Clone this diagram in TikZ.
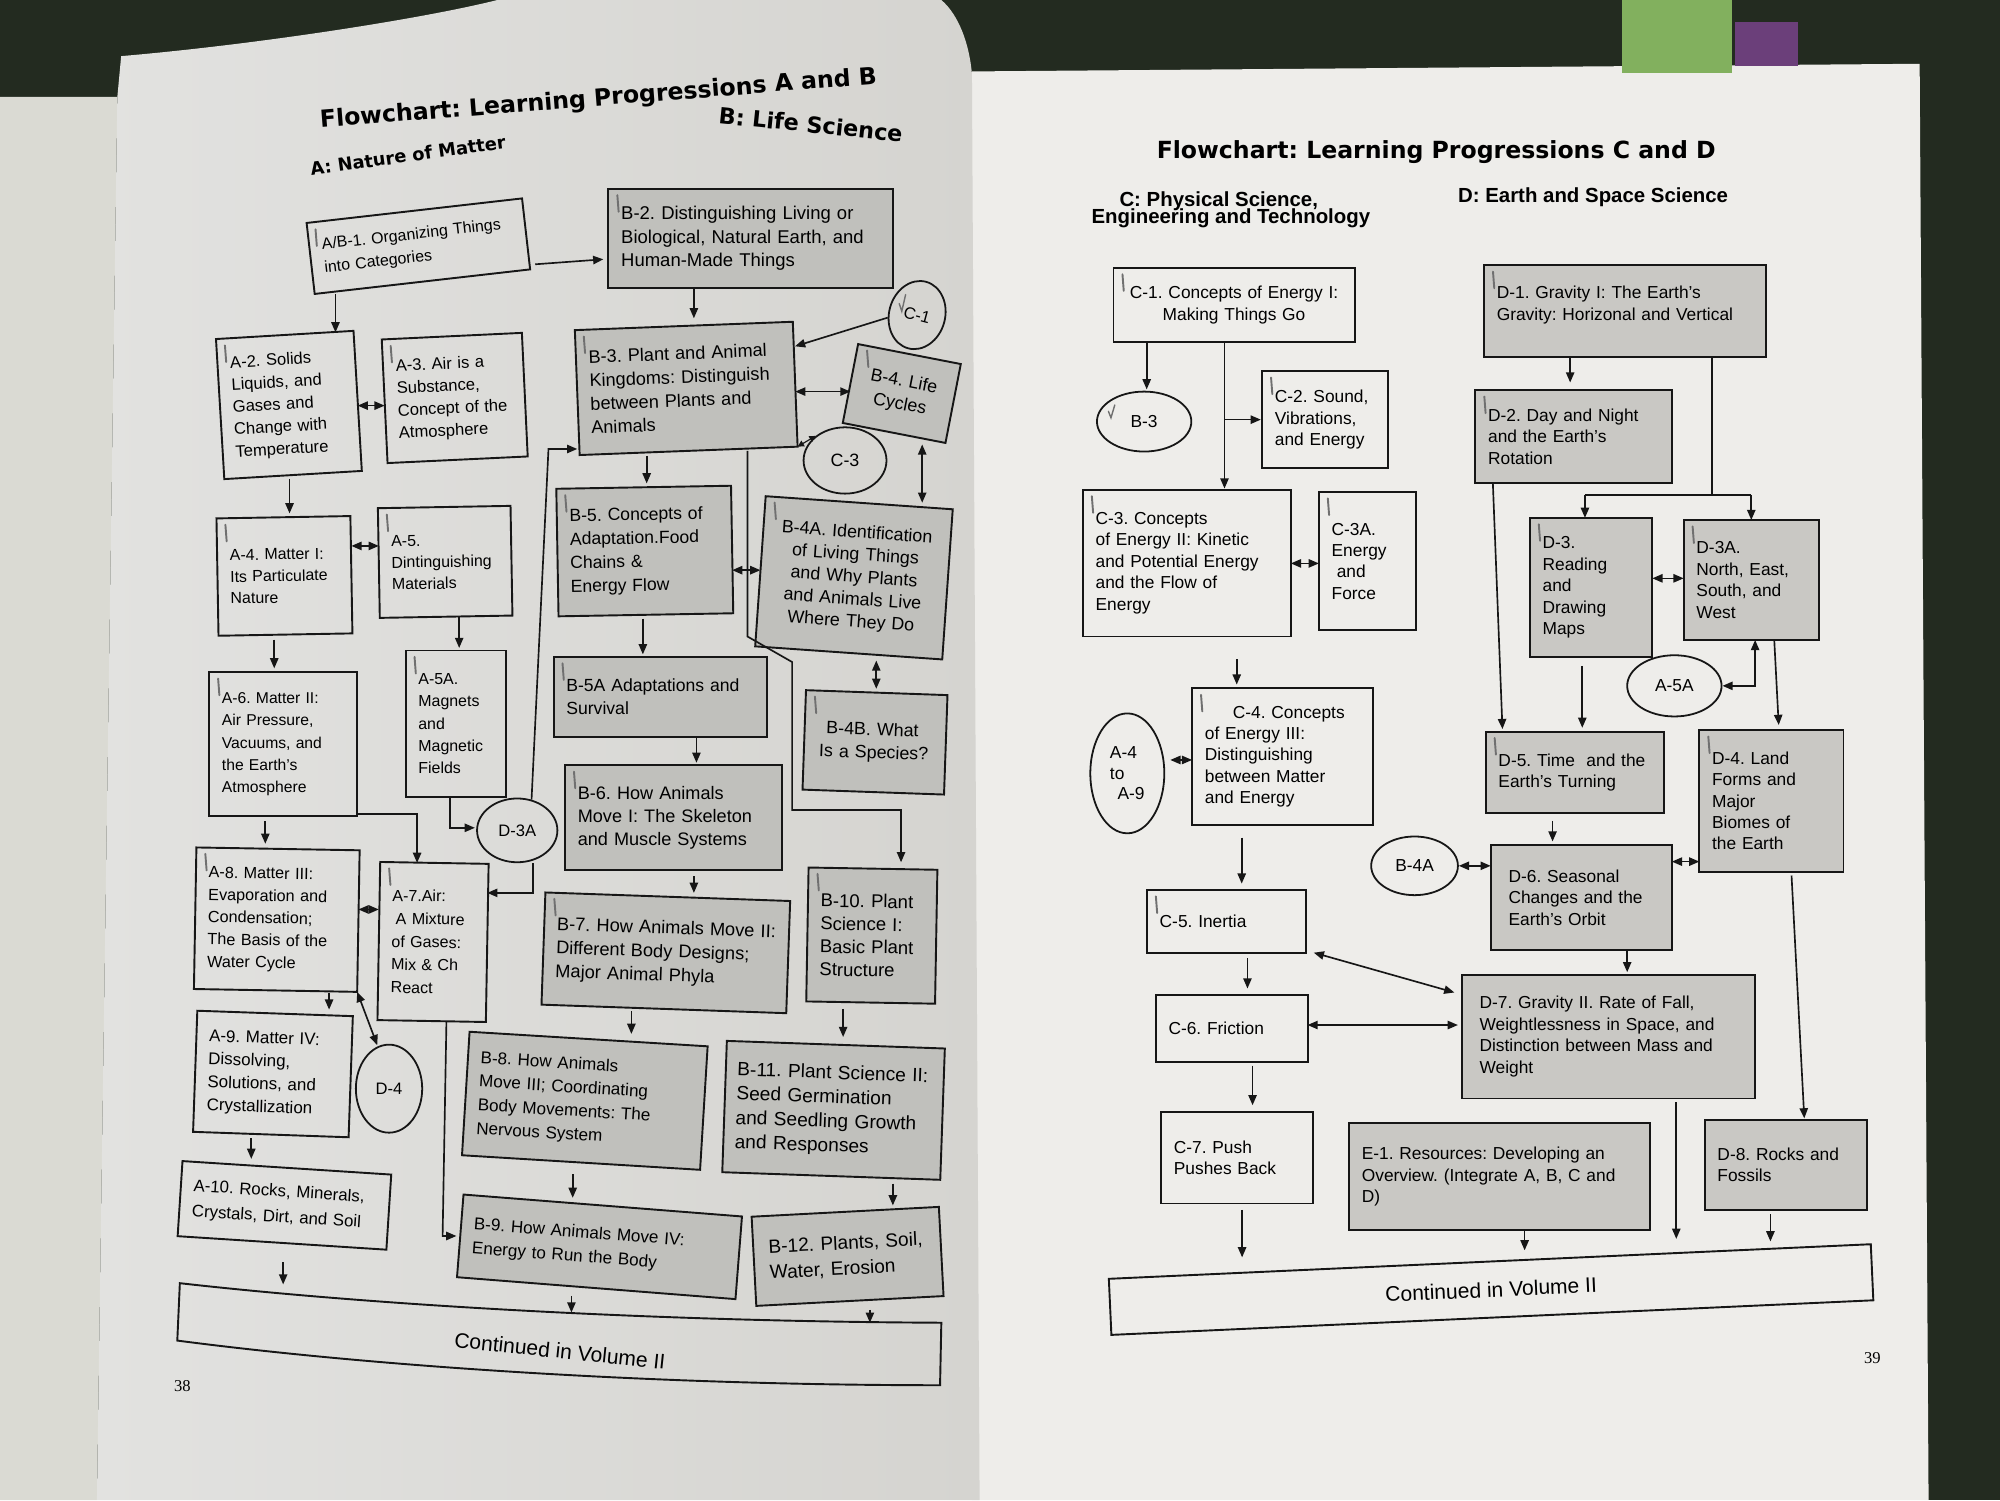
\documentclass[tikz,border=0pt]{standalone}
\usepackage{fontspec}
\setmainfont{Liberation Sans}
\newfontfamily\titlefont{DejaVu Sans}
\newfontfamily\serifnum{Liberation Serif}
\usetikzlibrary{shapes.geometric,arrows.meta,calc}
\newcommand\fs[2]{\fontsize{#1}{#2}\selectfont}
\definecolor{bg}{HTML}{232B20}
\definecolor{stripc}{HTML}{DADAD3}
\definecolor{pageLa}{HTML}{E2E2E0}
\definecolor{pageLb}{HTML}{D5D4D0}
\definecolor{pageR}{HTML}{EEEDEA}
\definecolor{boxgL}{HTML}{C0C0BC}
\definecolor{boxgR}{HTML}{C9C8C4}
\definecolor{ink}{HTML}{161616}
\definecolor{pencilc}{HTML}{707070}
\definecolor{stickg}{HTML}{82B05E}
\definecolor{stickp}{HTML}{6B3F7A}
\newcommand\bx[7][]{\pgfmathsetlengthmacro\bxtw{#5-20}%
  \node[box, minimum height=#6pt, text width=\bxtw, #1] (#2) at (#3,#4) {#7};}
\newcommand\tk[1]{\draw[pencil] ($(#1.north west)+(7,5)$) -- ++(1,13);}
\begin{document}
\frenchspacing
\begin{tikzpicture}[x=1pt,y=-1pt,
  box/.style={draw=ink, line width=1.5pt, inner xsep=10pt, inner ysep=3pt, align=left, outer sep=0pt, font=\fs{13.6}{16.8}},
  oval/.style={ellipse, draw=ink, line width=1.4pt, inner sep=0pt, font=\fs{13}{15}},
  arr/.style={draw=ink, line width=1.3pt, -{Triangle[length=8pt,width=6.5pt]}},
  darr/.style={draw=ink, line width=1.3pt, {Triangle[length=8pt,width=6.5pt]}-{Triangle[length=8pt,width=6.5pt]}},
  ln/.style={draw=ink, line width=1.3pt},
  pencil/.style={draw=pencilc, line width=1.5pt, line cap=round}]
\useasboundingbox (0,0) rectangle (1568,1176);
% ---------- photo background ----------
\fill[bg] (0,0) rectangle (1568,1176);
\fill[stripc] (0,76) -- (92,76) -- (76,1176) -- (0,1176) -- cycle;
\fill[pageR] (762,56) -- (1505,50) -- (1512,1176) -- (762,1176) -- cycle;
\shade[left color=pageLa, right color=pageLb] (95,44) .. controls (200,35) and (330,15) .. (390,0) -- (738,0) .. controls (752,12) and (760,35) .. (762,58) -- (768,1176) -- (76,1176) -- (92,76) -- cycle;
\fill[stickp] (1360,17) rectangle (1410,52);
\fill[stickg] (1272,0) rectangle (1358,57);
% ---------- titles ----------
\node[anchor=base, rotate=4.5, font=\titlefont\bfseries\fs{18.5}{20}] (tAB) at (469.6,83) {Flowchart: Learning Progressions A and B};
\node[anchor=base, rotate=8, font=\titlefont\bfseries\fs{14}{16}] (tA) at (320.5,127) {A: Nature of Matter};
\node[anchor=base, rotate=-5.8, font=\titlefont\bfseries\fs{17.5}{19}] (tB) at (635,104) {B: Life Science};
\node[anchor=base, font=\titlefont\bfseries\fs{18.5}{20}] (tCD) at (1126,124) {Flowchart: Learning Progressions C and D};
\node[anchor=base, font=\bfseries\fs{16}{16}] (tC1) at (955.5,161.5) {C: Physical Science,};
\node[anchor=base, font=\bfseries\fs{16}{16}] (tC2) at (965,175) {Engineering and Technology};
\node[anchor=base, font=\bfseries\fs{16}{16}] (tD) at (1249,159) {D: Earth and Space Science};
% ---------- left page boxes ----------
\bx[rotate=6.5, font=\fs{12.5}{18}]{ab1}{328}{193}{170}{56}{A/B-1. Organizing Things\\into Categories}
\bx[fill=boxgL, font=\fs{14.5}{18.5}]{b2}{588.5}{187}{223}{78}{B-2. Distinguishing Living or\\Biological, Natural Earth, and\\Human-Made Things}
\bx[rotate=3.4, font=\fs{13}{17.5}]{a2}{226.5}{317.5}{108}{110}{A-2. Solids\\Liquids, and\\Gases and\\Change with\\Temperature}
\bx[rotate=2.7, font=\fs{13}{17.5}]{a3}{356.5}{312}{110}{97}{A-3. Air is a\\Substance,\\Concept of the\\Atmosphere}
\bx[rotate=2.2, fill=boxgL, font=\fs{14.2}{18.5}]{b3}{538}{304.5}{171}{98}{B-3. Plant and Animal\\Kingdoms: Distinguish\\between Plants and\\Animals}
\bx[rotate=-11, fill=boxgL, align=center, font=\fs{14}{18}]{b4}{707}{308.5}{82}{63}{B-4. Life\\Cycles}
\node[oval, minimum width=44pt, minimum height=54pt, rotate=-15] (c1l) at (719,247) {C-1};
\node[oval, minimum width=65pt, minimum height=52pt, font=\fs{14}{15}] (c3l) at (662.5,361) {C-3};
\bx[rotate=1, font=\fs{12.5}{17}]{a4}{223}{451.5}{105}{92}{A-4. Matter I:\\Its Particulate\\Nature}
\bx[rotate=1, font=\fs{12.5}{17}]{a5}{349}{440.5}{104}{86}{A-5.\\Dintinguishing\\Materials}
\bx[rotate=1, fill=boxgL, font=\fs{13.8}{18.5}]{b5}{505.5}{432}{137}{100}{B-5. Concepts of\\Adaptation.Food\\Chains \&\\Energy Flow}
\bx[rotate=-4, fill=boxgL, align=center, inner xsep=8pt, text width=131pt, font=\fs{14}{17.5}]{b4a}{669.5}{453}{147}{118}{B-4A. Identification\\of Living Things\\and Why Plants\\and Animals Live\\Where They Do}
\bx[font=\fs{12.3}{17.5}]{a6}{222}{583.5}{116}{113}{A-6. Matter II:\\Air Pressure,\\Vacuums, and\\the Earth’s\\Atmosphere}
\bx[font=\fs{12.5}{17.5}]{a5a}{357.5}{567.5}{79}{115}{A-5A.\\Magnets\\and\\Magnetic\\Fields}
\bx[fill=boxgL, font=\fs{13.8}{18}]{b5a}{517.5}{546.5}{167}{63}{B-5A Adaptations and\\Survival}
\bx[rotate=-2, fill=boxgL, font=\fs{14}{18}]{b4b}{686}{582}{111}{78}{\hspace*{7pt}B-4B. What\\\hspace*{2pt}Is a Species?}
\bx[fill=boxgL, font=\fs{14.2}{18}]{b6}{528}{641}{170}{82}{B-6. How Animals\\Move I: The Skeleton\\and Muscle Systems}
\bx[rotate=-2, fill=boxgL, font=\fs{14.3}{18.5}]{b7}{522}{747}{192}{88}{B-7. How Animals Move II:\\Different Body Designs;\\Major Animal Phyla}
\bx[rotate=-1, fill=boxgL, font=\fs{14.5}{18}]{b10}{683.5}{733.5}{101}{105}{B-10. Plant\\Science I:\\Basic Plant\\Structure}
\node[oval, minimum width=63pt, minimum height=50pt] (d3al) at (405.5,651) {D-3A};
\bx[rotate=-1, font=\fs{12.7}{17.5}]{a8}{217}{721}{128}{111}{A-8. Matter III:\\Evaporation and\\Condensation;\\The Basis of the\\Water Cycle}
\bx[rotate=-1, font=\fs{12.6}{18}]{a7}{339.5}{738.5}{85}{124}{A-7.Air:\\\hspace*{3pt}A Mixture\\of Gases:\\Mix \& Ch\\React}
\bx[rotate=-3.5, fill=boxgL, font=\fs{13.4}{18.5}]{b8}{458.5}{863}{187}{97}{B-8. How Animals\\Move III; Coordinating\\Body Movements: The\\Nervous System}
\bx[rotate=-2, fill=boxgL, inner xsep=9pt, text width=153pt, font=\fs{15}{19}]{b11}{653.5}{870.5}{171}{103}{B-11. Plant Science II:\\Seed Germination\\and Seedling Growth\\and Responses}
\node[oval, minimum width=52pt, minimum height=69pt] (d4l) at (305,853.5) {D-4};
\bx[rotate=-2, font=\fs{13.3}{18}]{a9}{214}{842}{122}{95}{A-9. Matter IV:\\Dissolving,\\Solutions, and\\Crystallization}
\bx[rotate=-3.7, font=\fs{13.2}{20}]{a10}{223}{945}{164}{59}{A-10.\ Rocks, Minerals,\\Crystals, Dirt, and Soil}
\bx[rotate=-4.5, fill=boxgL, font=\fs{13.4}{19}]{b9}{470}{977.5}{219}{65}{B-9. How Animals Move IV:\\Energy to Run the Body}
\bx[rotate=3, fill=boxgL, font=\fs{15}{20}, inner xsep=12pt, text width=123pt]{b12}{664.5}{985}{147}{70}{B-12. Plants, Soil,\\Water, Erosion}
% left continued box
\draw[ink, line width=1.5pt] (141,1006) .. controls (300,1024) and (520,1036) .. (738,1037) -- (737,1086) .. controls (520,1086) and (300,1072) .. (139,1051) -- cycle;
\node[rotate=-6, font=\fs{16.5}{18}] (contL) at (439,1059) {Continued in Volume II};
\coordinate (cl1) at (222,1007);
\coordinate (cl2) at (448,1029);
\coordinate (cl3) at (682,1037);
\node[font=\serifnum\fs{13}{14}] (p38) at (143,1087) {38};
% ---------- right page boxes ----------
\bx[align=center]{c1r}{967.5}{239}{189}{58}{C-1. Concepts of Energy I:\\Making Things Go}
\node[oval, minimum width=74pt, minimum height=47pt, font=\fs{13.6}{15}] (b3r) at (897,330.5) {B-3};
\bx{c2}{1039}{329}{99}{76}{C-2. Sound,\\Vibrations,\\and Energy}
\bx{c3}{930.5}{441.5}{163}{115}{C-3. Concepts\\of Energy II: Kinetic\\and Potential Energy\\and the Flow of\\Energy}
\bx{c3a}{1072}{440}{76}{108.5}{C-3A.\\Energy\\\hspace*{4pt}and\\Force}
\bx{c4}{1005.6}{593.2}{142}{107}{\hspace*{22pt}C-4. Concepts\\of Energy III:\\Distinguishing\\between Matter\\and Energy}
\node[oval, minimum width=58pt, minimum height=94pt, align=left, font=\fs{13.6}{16}] (a49) at (883.8,606.3) {A-4\\to\\\hspace*{6pt}A-9};
\bx{c5}{961.7}{722.5}{125}{49.5}{C-5. Inertia}
\bx{c6}{965.6}{806.2}{119}{52.4}{C-6. Friction}
\bx{c7}{969.8}{907.5}{119}{72}{C-7. Push\\Pushes Back}
\bx[fill=boxgR]{e1}{1175.7}{922.5}{236}{84}{E-1. Resources: Developing an\\Overview. (Integrate A, B, C and\\D)}
\bx[fill=boxgR]{d1}{1274}{244}{221}{72}{D-1. Gravity I: The Earth’s\\Gravity: Horizonal and Vertical\\[-4pt]~}
\bx[fill=boxgR]{d2}{1233.7}{342.4}{154}{73}{D-2. Day and Night\\and the Earth’s\\Rotation}
\bx[fill=boxgR]{d3}{1247.4}{460.5}{96}{109}{D-3.\\Reading\\and\\Drawing\\Maps}
\bx[fill=boxgR]{d3a}{1373}{454.7}{106}{94}{D-3A.\\North, East,\\South, and\\West}
\node[oval, minimum width=74pt, minimum height=48pt, font=\fs{13.6}{15}] (a5ar) at (1312.7,537.7) {A-5A};
\bx[fill=boxgR]{d5}{1234.8}{605.6}{140}{64}{D-5. Time\ \ and the\\Earth’s Turning}
\bx[fill=boxgR]{d4}{1388.8}{627.9}{113}{111}{D-4. Land\\Forms and\\Major\\Biomes of\\the Earth}
\bx[fill=boxgR, inner xsep=14pt, text width=114pt]{d6}{1239.7}{703.7}{142}{82}{D-6. Seasonal\\Changes and the\\Earth’s Orbit}
\node[oval, minimum width=68pt, minimum height=46pt, font=\fs{13.6}{15}] (b4ar) at (1109,678.8) {B-4A};
\bx[fill=boxgR, inner xsep=14pt, text width=202pt]{d7}{1261}{812.7}{230}{97}{D-7. Gravity II. Rate of Fall,\\Weightlessness in Space, and\\Distinction between Mass and\\Weight}
\bx[fill=boxgR]{d8}{1400}{913.3}{127}{71}{D-8. Rocks and\\Fossils}
\node[draw=ink, line width=1.5pt, rotate=2.6, minimum width=598pt, minimum height=44pt, inner sep=0pt, font=\fs{16.5}{18}] (contR) at (1169,1011) {Continued in Volume II};
\node[font=\serifnum\fs{13}{14}] (p39) at (1468,1065) {39};
% ---------- pencil marks ----------
\foreach \n in {ab1,b2,a2,a3,b3,b4,a4,a5,b5,b4a,a6,a5a,b5a,b4b,b6,b7,b10,a8,a7,c1r,d1,c2,c3,c3a,d2,d3,d3a,c4,d5,d4,c5}{\tk{\n}}
\draw[pencil, line width=1.1pt] ($(c1l.center)+(-14,-9)$) -- ++(2,6) -- ++(3,-13);
\draw[pencil, line width=1.1pt] ($(b3r.center)+(-28,-8)$) -- ++(2,5) -- ++(3,-10);
% ---------- left page connectors ----------
\draw[arr, shorten >=4pt] ($(ab1.south east)+(4,-4)$) -- (b2.west |- 0,203);
\draw[arr, shorten <=10pt, shorten >=2pt] (ab1.south -| 263,0) -- (a2.north -| 263,0);
\draw[arr, shorten >=6pt] (b2.south -| 544,0) -- (b3.north -| 544,0);
\draw[arr, shorten >=1pt] (c1l.200) -- (b3.19);
\draw[darr] (b3.east |- 0,307) -- (b4.west |- 0,307);
\draw[ink, line width=0.9pt, {Triangle[length=5pt,width=5pt]}-{Triangle[length=5pt,width=5pt]}] (c3l.140) -- (b3.south east);
\draw[darr, shorten <=9pt] (b4.south -| 723,0) -- (b4a.north -| 723,0);
\draw[darr] (a2.east |- 0,318) -- (a3.west |- 0,318);
\draw[arr, shorten <=3pt, shorten >=3pt] (a2.south -| 227,0) -- (a4.north -| 227,0);
\draw[darr] (a4.east |- 0,428) -- (a5.west |- 0,428);
\draw[arr, shorten >=2pt] (a5.south -| 360,0) -- (a5a.north -| 360,0);
\draw[arr, shorten <=4pt, shorten >=3pt] (a4.south -| 215,0) -- (a6.north -| 215,0);
\draw[arr, shorten <=4pt, shorten >=3pt] (b3.south -| 507,0) -- (b5.north -| 507,0);
\draw[darr] (b5.east |- 0,447) -- (b4a.west |- 0,447);
\draw[arr, shorten <=3pt, shorten >=2pt] (b5.south -| 504,0) -- (b5a.north -| 504,0);
\draw[darr, shorten <=6pt, shorten >=3pt] (b4a.south -| 687,0) -- (b4b.north -| 687,0);
\draw[arr, shorten >=2pt] (b5a.south -| 546,0) -- (b6.north -| 546,0);
\draw[arr, shorten <=5pt, shorten >=3pt] (b6.south -| 544,0) -- (b7.north -| 544,0);
\draw[arr, shorten <=4pt, shorten >=4pt] (a6.south -| 208,0) -- (a8.north -| 208,0);
\coordinate (a6a7) at (327,638);
\draw[arr] (a6.south east |- a6a7) -- (a6a7) -- (a7.north -| a6a7);
\coordinate (a5ad3) at (353,649);
\draw[arr, shorten >=1pt] (a5a.south -| a5ad3) -- (a5ad3) -- (d3al.west |- a5ad3);
\coordinate (d3a7) at (418,700);
\draw[arr] (d3al.south -| d3a7) -- (d3a7) -- (a7.east |- d3a7);
\coordinate (d3b3) at (430,352);
\draw[arr] (d3al.65) -- (d3b3) -- (b3.west |- d3b3);
\draw[darr] (a8.east |- 0,713) -- (a7.west |- 0,713);
\draw[arr, shorten <=2pt, shorten >=3pt] (a8.south -| 258,0) -- (a9.north -| 258,0);
\draw[darr, shorten >=1pt] (a8.south east) -- (d4l.105);
\coordinate (a7b9) at (347,969);
\draw[arr, shorten >=3pt] (a7.south -| 350,0) -- (a7b9) -- (a7b9 -| b9.west);
\coordinate (q1) at (586,499);
\coordinate (q2) at (621,519);
\coordinate (q3) at (621,635);
\draw[arr, shorten >=5pt] (b3.south -| q1) -- (q1) -- (q2) -- (q3) -| ($(b10.north)+(22,0)$);
\draw[arr, shorten <=2pt, shorten >=4pt] (b7.south -| 495,0) -- (b8.north -| 495,0);
\draw[arr, shorten <=5pt, shorten >=6pt] (b10.south -| 661,0) -- (b11.north -| 661,0);
\draw[arr, shorten <=3pt, shorten >=7pt] (a9.south -| 197,0) -- (a10.north -| 197,0);
\draw[arr, shorten <=9pt, shorten >=6pt] (b8.south -| 449,0) -- (b9.north -| 449,0);
\draw[arr, shorten <=6pt, shorten >=5pt] (b11.south -| 700,0) -- (b12.north -| 700,0);
\draw[arr, shorten <=15pt] (a10.south -| 222,0) -- (cl1);
\draw[arr, shorten <=6pt] (b9.south -| 448,0) -- (cl2);
\draw[arr, shorten <=7pt] (b12.south -| 682,0) -- (cl3);
% ---------- right page connectors ----------
\draw[arr, shorten >=1pt] (c1r.south -| 899,0) -- (b3r.north -| 899,0);
\draw[arr, shorten >=1pt] (c1r.south -| 960,0) -- (c3.north -| 960,0);
\draw[arr, shorten >=1pt] (c2.west -| 960,0) -- (c2.west);
\draw[darr] (c3.east |- 0,441.7) -- (c3a.west |- 0,441.7);
\draw[arr, shorten <=18pt, shorten >=3pt] (c3.south -| 969.6,0) -- (c4.north -| 969.6,0);
\draw[darr, shorten <=4pt] (a49.east |- 0,595.8) -- (c4.west |- 0,595.8);
\draw[arr, shorten <=10pt, shorten >=5pt] (c4.south -| 973.5,0) -- (c5.north -| 973.5,0);
\draw[arr, shorten <=4pt, shorten >=5pt] (c5.south -| 978,0) -- (c6.north -| 978,0);
\draw[darr, shorten <=6pt, shorten >=6pt] (c5.-20) -- (d7.164);
\draw[darr, shorten >=3pt] (c6.east |- 0,803.6) -- (d7.west |- 0,803.6);
\draw[arr, shorten <=3pt, shorten >=5pt] (c6.south -| 982,0) -- (c7.north -| 982,0);
\draw[arr, shorten <=5pt, shorten >=2.5pt] (c7.south -| 973.8,0) -- (contR.north -| 973.8,0);
\draw[arr, shorten >=8pt] (e1.south -| 1195.3,0) -- (contR.north -| 1195.3,0);
\draw[arr, shorten <=3pt, shorten >=17pt] (d7.south -| 1314.2,0) -- (contR.north -| 1314.2,0);
\draw[arr, shorten <=3pt, shorten >=15pt] (d8.south -| 1388,0) -- (contR.north -| 1388,0);
\draw[arr, shorten <=3pt, shorten >=1pt] (d4.south -| 1404.4,0) -- (d8.north -| 1414.6,0);
\draw[arr, shorten >=6pt] (d1.south -| 1231,0) -- (d2.north -| 1231,0);
\coordinate (busL) at (1242.6,388);
\coordinate (busR) at (1373,388);
\coordinate (busM) at (1342,388);
\draw[ln] (d1.south -| busM) -- (busM);
\draw[ln] (busL) -- (busR);
\draw[arr] (busL) -- (d3.north -| busL);
\draw[arr] (busR) -- (d3a.north -| busR);
\draw[arr, shorten >=2pt] (d2.south -| 1170.4,0) -- (d5.north -| 1178,0);
\draw[darr] (d3.east |- 0,453.4) -- (d3a.west |- 0,453.4);
\draw[arr, shorten <=7pt, shorten >=3pt] (d3.south -| 1240.5,0) -- (d5.north -| 1240.5,0);
\coordinate (d3a5a) at (1376,537.7);
\draw[darr] (d3a.south -| d3a5a) -- (d3a5a) -- (a5ar.east);
\draw[arr, shorten >=4pt] (d3a.south -| 1391,0) -- (d4.north -| 1394.7,0);
\draw[arr, shorten <=6pt, shorten >=3pt] (d5.south -| 1217.2,0) -- (d6.north -| 1217.2,0);
\draw[darr] (b4ar.east) -- (d6.west |- b4ar.east);
\draw[darr] (d6.east |- 0,675.5) -- (d4.west |- 0,675.5);
\draw[arr, shorten >=2pt] (d6.south -| 1275.7,0) -- (d7.north -| 1275.7,0);
\end{tikzpicture}
\end{document}
